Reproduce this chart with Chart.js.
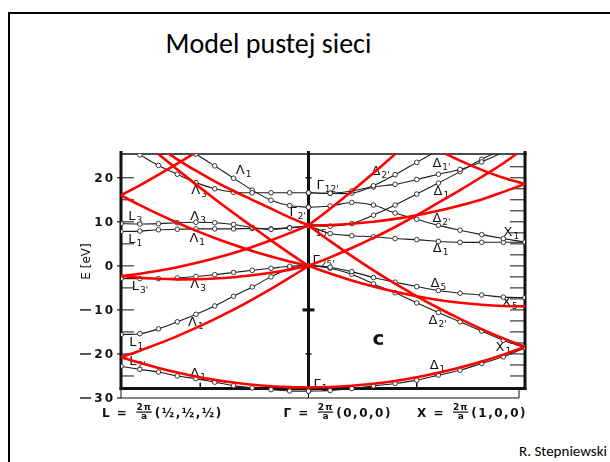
<!DOCTYPE html>
<html>
<head>
<meta charset="utf-8">
<script src="https://cdn.jsdelivr.net/npm/chart.js@4/dist/chart.umd.min.js"></script>
<style>
  html, body { margin: 0; padding: 0; background: #fff; width: 610px; height: 462px; overflow: hidden; }
  #slide { position: absolute; left: 8px; top: 12px; width: 700px; height: 600px; border: 2px solid #000; box-sizing: border-box; }
  #title { position: absolute; left: 0; width: 537px; top: 26px; text-align: center;
           font-family: Carlito, Lato, 'Open Sans', sans-serif; font-size: 28px; color: #000; }
  #credit { position: absolute; left: 519px; top: 442px; white-space: nowrap;
            font-family: Carlito, Lato, 'Open Sans', sans-serif; font-size: 15px; color: #000; }
  canvas { position: absolute; left: 0; top: 0; }
</style>
</head>
<body>
<div id="slide"></div>
<div id="title">Model pustej sieci</div>
<div id="credit">R. Stepniewski</div>
<canvas id="bands" width="610" height="462"></canvas>
<script>
// Wave-vector grids (units of 2π/a): L → Γ along (111), Γ → X along (100)
const kLeft  = [-0.866, -0.779, -0.693, -0.606, -0.520, -0.433, -0.346, -0.260, -0.173, -0.087, 0];
const kRight = [0, 0.1, 0.2, 0.3, 0.4, 0.5, 0.6, 0.7, 0.8, 0.9, 1];

// Symmetry points on the k axis
const symmetryNames  = ['L', 'Γ', 'X'];
const symmetryK      = [-0.866, 0, 1];
const symmetryCoords = ['½,½,½', '0,0,0', '1,0,0'];

// Energy axis (eV)
const energyTicks = [20, 10, 0, -10, -20, -30];
const energyMin = -30, energyMax = 25.4, baseLevel = -27.85;

// Calculated bands, L → Γ (eV)
const bandL1 = [null, 25.2, 22.8, 20.8, 18.9, 17.5, 16.7, 16.6, 16.6, 16.6, 16.6];
const bandL2 = [null, null, null, null, 25.4, 22.7, 19.9, 17.2, 14.9, 13.7, 13.3];
const bandL3 = [9.6, 9.5, 9.6, 9.8, 9.9, 9.8, 9.4, 8.7, 8.3, 8.6, 9.1];
const bandL4 = [7.8, 7.9, 8.2, 8.3, 8.4, 8.4, 8.4, 8.5, 8.4, 8.7, 9.1];
const bandL5 = [-2.9, -2.9, -2.9, -2.75, -2.4, -2.0, -1.5, -1.0, -0.55, -0.1, 0.1];
const bandL6 = [-15.6, -15.4, -14.3, -12.7, -11.0, -9.1, -6.9, -4.8, -2.5, -0.6, 0.1];
const bandL7 = [-22.8, -23.5, -24.1, -25.0, -25.6, -26.4, -27.2, -27.7, -28.1, -28.4, -28.45];

// Calculated bands, Γ → X (eV)
const bandX1 = [16.6, 16.5, 17.0, 18.2, 20.7, 23.5, 26.3, null, null, null, null];
const bandX2 = [16.6, 16.45, 16.5, 17.9, 18.5, 19.6, 20.8, 21.9, 23.6, 25.8, null];
const bandX3 = [9.1, 9.0, 9.6, 11.5, 13.8, 16.3, 18.8, 21.4, 24.2, 26.5, null];
const bandX4 = [13.3, 13.6, 14.4, 13.8, 12.0, 10.6, 9.2, 8.1, 7.1, 6.2, 5.4];
const bandX5 = [9.1, 7.35, 6.85, 6.6, 6.2, 5.95, 5.55, 5.35, 5.35, 5.35, 5.4];
const bandX6 = [0.1, -0.3, -1.3, -2.65, -3.7, -4.7, -5.6, -6.2, -6.6, -7.1, -7.2];
const bandX7 = [0.1, -0.55, -1.9, -4.1, -6.1, -8.4, -10.6, -12.7, -14.8, -16.9, -18.6];
const bandX8 = [-28.45, -28.3, -27.85, -27.25, -26.7, -25.95, -24.8, -23.7, -22.15, -20.65, -18.6];

// Empty-lattice (free electron) parabolas, L → Γ (eV)
const freeL1 = [-20.70, -22.01, -23.18, -24.22, -25.12, -25.88, -26.50, -26.98, -27.32, -27.53, -27.60];
const freeL2 = [-20.70, -19.25, -17.66, -15.94, -14.08, -12.08, -9.94, -7.66, -5.24, -2.69, 0.00];
const freeL3 = [-2.30, -2.69, -2.94, -3.06, -3.04, -2.88, -2.58, -2.14, -1.56, -0.85, 0.00];
const freeL4 = [16.00, 13.80, 11.75, 9.80, 8.00, 6.33, 4.78, 3.38, 2.12, 0.99, 0.00];
const freeL5 = [-2.30, -1.77, -1.10, -0.30, 0.64, 1.73, 2.94, 4.30, 5.80, 7.43, 9.20];
const freeL6 = [32.80, 29.90, 27.00, 24.20, 21.60, 19.20, 17.00, 15.00, 13.00, 11.00, 9.20];
const freeL7 = [32.50, 29.00, 25.40, 21.90, 18.50, 15.20, 12.00, 8.90, 5.80, 2.83, 0.00];
const freeL8 = [16.00, 18.30, 20.70, 23.20, 25.80, 28.60, null, null, null, null, null];

// Empty-lattice (free electron) parabolas, Γ → X (eV)
const freeX1 = [-27.60, -27.51, -27.23, -26.77, -26.13, -25.30, -24.29, -23.09, -21.71, -20.15, -18.40];
const freeX2 = [9.20, 5.61, 2.21, -1.01, -4.05, -6.90, -9.57, -12.05, -14.35, -16.47, -18.40];
const freeX3 = [0.00, -1.75, -3.31, -4.69, -5.89, -6.90, -7.73, -8.37, -8.83, -9.11, -9.20];
const freeX4 = [0.00, 1.93, 4.05, 6.35, 8.83, 11.50, 14.35, 17.20, 20.20, 23.30, 26.80];
const freeX5 = [9.20, 9.29, 9.57, 10.03, 10.67, 11.50, 12.51, 13.71, 15.09, 16.80, 18.60];
const freeX6 = [null, null, null, null, 32.00, 29.00, 26.30, 23.90, 21.80, 20.00, 18.60];
const freeX7 = [9.20, 12.97, 16.93, 21.07, 25.39, 29.90, null, null, null, null, null];

// State labels: symbol, subscript, k, E
const stateLabels = [
  ['Λ', '1', -0.30, 21.8], ['Λ', '3', -0.505, 17.3], ['Γ', "12'", 0.088, 18.3], ['Γ', "2'", -0.05, 12.2],
  ['L', '3', -0.80, 11.3], ['Λ', '3', -0.51, 11.3], ['L', '1', -0.80, 6.0], ['Λ', '1', -0.514, 6.3],
  ['Γ', '15', 0.04, 8.3], ['Γ', "25'", 0.07, 1.3], ['L', "3'", -0.778, -4.6], ['Λ', '3', -0.51, -4.2],
  ['Λ', '1', -0.52, -12.8], ['L', '1', -0.796, -17.2], ['L', "2'", -0.79, -21.6], ['Λ', '1', -0.51, -24.4],
  ['Γ', '1', 0.055, -26.9],
  ['Δ', "2'", 0.333, 21.5], ['Δ', "1'", 0.614, 23.3], ['Δ', '1', 0.614, 17.0], ['Δ', "2'", 0.614, 10.8],
  ['X', '1', 0.937, 7.6], ['Δ', '1', 0.61, 4.0], ['Δ', '5', 0.60, -4.0], ['X', '5', 0.93, -8.3],
  ['Δ', "2'", 0.596, -12.4], ['X', '1', 0.90, -18.5], ['Δ', '1', 0.596, -22.6]
];
const crystalTag = ['c', 0.323, -17.2];

function series(ks, vals) {
  return ks.map((k, i) => ({ x: k, y: vals[i] }));
}

const calcStyle = {
  borderColor: '#1c1c1c', borderWidth: 1.1, tension: 0.3,
  pointRadius: 2.3, pointBackgroundColor: '#fff', pointBorderColor: '#222', pointBorderWidth: 0.9,
  order: 2
};
const freeStyle = { borderColor: '#ff0000', borderWidth: 2.6, tension: 0.4, pointRadius: 0, order: 1 };

const calcLeft  = [bandL1, bandL2, bandL3, bandL4, bandL5, bandL6, bandL7];
const calcRight = [bandX1, bandX2, bandX3, bandX4, bandX5, bandX6, bandX7, bandX8];
const freeLeft  = [freeL1, freeL2, freeL3, freeL4, freeL5, freeL6, freeL7, freeL8];
const freeRight = [freeX1, freeX2, freeX3, freeX4, freeX5, freeX6, freeX7];

const datasets = [];
calcLeft.forEach(v => datasets.push(Object.assign({ data: series(kLeft, v) }, calcStyle)));
calcRight.forEach(v => datasets.push(Object.assign({ data: series(kRight, v) }, calcStyle)));
freeLeft.forEach(v => datasets.push(Object.assign({ data: series(kLeft, v) }, freeStyle)));
freeRight.forEach(v => datasets.push(Object.assign({ data: series(kRight, v) }, freeStyle)));

const SANS = "'DejaVu Sans', 'Liberation Sans', sans-serif";

function drawState(ctx, base, sub, cx, cy) {
  ctx.font = '13px ' + SANS;
  const wb = ctx.measureText(base).width;
  ctx.font = '9px ' + SANS;
  const ws = ctx.measureText(sub).width;
  const x0 = cx - (wb + ws + 1) / 2;
  ctx.textAlign = 'left';
  ctx.textBaseline = 'alphabetic';
  ctx.font = '13px ' + SANS;
  ctx.fillText(base, x0, cy + 4);
  ctx.font = '9px ' + SANS;
  ctx.fillText(sub, x0 + wb + 1, cy + 7);
}

function drawSymmetryLabel(ctx, x0, baseline, name, coords) {
  ctx.textAlign = 'left';
  ctx.textBaseline = 'alphabetic';
  ctx.letterSpacing = '1.5px';
  ctx.font = 'bold 12px ' + SANS;
  const lhs = name + ' =';
  ctx.fillText(lhs, x0, baseline);
  let x = x0 + ctx.measureText(lhs).width + 8;
  ctx.letterSpacing = '1px';
  ctx.font = 'bold 9px ' + SANS;
  const wn = ctx.measureText('2π').width;
  ctx.fillText('2π', x, baseline - 7);
  ctx.fillRect(x, baseline - 5.5, wn, 1.2);
  ctx.fillText('a', x + wn / 2 - 3, baseline + 2);
  x += wn + 3;
  ctx.letterSpacing = '1.5px';
  ctx.font = 'bold 12px ' + SANS;
  ctx.fillText('(' + coords + ')', x, baseline);
  ctx.letterSpacing = '0px';
}

const framePlugin = {
  id: 'bandFrame',
  beforeDatasetsDraw(chart) {
    const { ctx, scales } = chart;
    const xs = scales.x, ys = scales.y;
    const xL = xs.getPixelForValue(symmetryK[0]);
    const xG = xs.getPixelForValue(symmetryK[1]);
    const xX = xs.getPixelForValue(symmetryK[2]);
    const yTop = ys.getPixelForValue(energyMax);
    const yBase = ys.getPixelForValue(baseLevel);
    const yBot = ys.getPixelForValue(energyMin);
    ctx.save();
    ctx.strokeStyle = '#111';
    ctx.fillStyle = '#111';
    ctx.lineCap = 'butt';

    const line = (x1, y1, x2, y2, w) => {
      ctx.lineWidth = w; ctx.beginPath(); ctx.moveTo(x1, y1); ctx.lineTo(x2, y2); ctx.stroke();
    };

    // frame
    line(xL - 1, yTop, xX + 2, yTop, 1.3);
    [xL, xG, xX].forEach(px => line(px, yTop - 3, px, yBase + 1.5, 3));
    line(xL - 1.5, yBase, xX + 1.5, yBase, 3);
    // lower box
    line(xL, yBase, xL, yBot, 1);
    line(xG, yBase, xG, yBot, 1);
    line(xX - 6, yBase, xX - 6, yBot, 1);
    line(xL, yBot, xX - 6, yBot, 1.2);

    // inner ticks
    for (let e = 20; e >= -25; e -= 5) {
      const py = ys.getPixelForValue(e);
      line(xL, py, xL + 13, py, 1);
    }
    for (let e = 22.5; e >= -25; e -= 2.5) {
      const py = ys.getPixelForValue(e);
      line(xX - 15, py, xX, py, 1);
    }
    // marks on the Γ line
    line(xG - 6, ys.getPixelForValue(-10), xG + 6, ys.getPixelForValue(-10), 3);
    [20, -20].forEach(e => line(xG - 3, ys.getPixelForValue(e), xG + 3, ys.getPixelForValue(e), 1.5));
    // marks on the base line
    [-0.5, 0.5].forEach(k => line(xs.getPixelForValue(k), yBase - 6, xs.getPixelForValue(k), yBase, 1.5));

    // energy tick labels
    ctx.font = 'bold 12px ' + SANS;
    ctx.textBaseline = 'middle';
    ctx.textAlign = 'right';
    ctx.letterSpacing = '2px';
    energyTicks.forEach(e => {
      const py = ys.getPixelForValue(e);
      ctx.fillText(String(Math.abs(e)), xL - 6, py + 1);
      line(xL - 4, py, xL, py, 1.2);
      if (e < 0) line(xL - 41, py, xL - 30, py, 1.4);
    });
    ctx.letterSpacing = '0px';

    // energy axis title
    ctx.save();
    ctx.translate(xL - 34, ys.getPixelForValue(1));
    ctx.rotate(-Math.PI / 2);
    ctx.textAlign = 'center';
    ctx.textBaseline = 'middle';
    ctx.font = '12px ' + SANS;
    ctx.fillText('E [eV]', 0, 0);
    ctx.restore();

    // symmetry-point labels
    const base = yBot + 19;
    drawSymmetryLabel(ctx, xL - 19, base, symmetryNames[0], symmetryCoords[0]);
    drawSymmetryLabel(ctx, xG - 25, base, symmetryNames[1], symmetryCoords[1]);
    drawSymmetryLabel(ctx, xX - 108, base, symmetryNames[2], symmetryCoords[2]);

    // state labels
    stateLabels.forEach(([b, s, k, e]) => drawState(ctx, b, s, xs.getPixelForValue(k), ys.getPixelForValue(e)));
    ctx.font = 'bold 20px ' + SANS;
    ctx.textAlign = 'center';
    ctx.textBaseline = 'middle';
    ctx.fillText(crystalTag[0], xs.getPixelForValue(crystalTag[1]), ys.getPixelForValue(crystalTag[2]) - 2);
    ctx.restore();
  }
};

new Chart(document.getElementById('bands'), {
  type: 'line',
  data: { datasets },
  options: {
    responsive: false,
    animation: false,
    devicePixelRatio: 1,
    layout: { padding: { left: 121, right: 85, top: 154, bottom: 64 } },
    elements: { line: { capBezierPoints: false } },
    scales: {
      x: { type: 'linear', min: symmetryK[0], max: symmetryK[2], display: false },
      y: { type: 'linear', min: energyMin, max: energyMax, display: false }
    },
    plugins: { legend: { display: false }, tooltip: { enabled: false }, title: { display: false } }
  },
  plugins: [framePlugin]
});
</script>
</body>
</html>
